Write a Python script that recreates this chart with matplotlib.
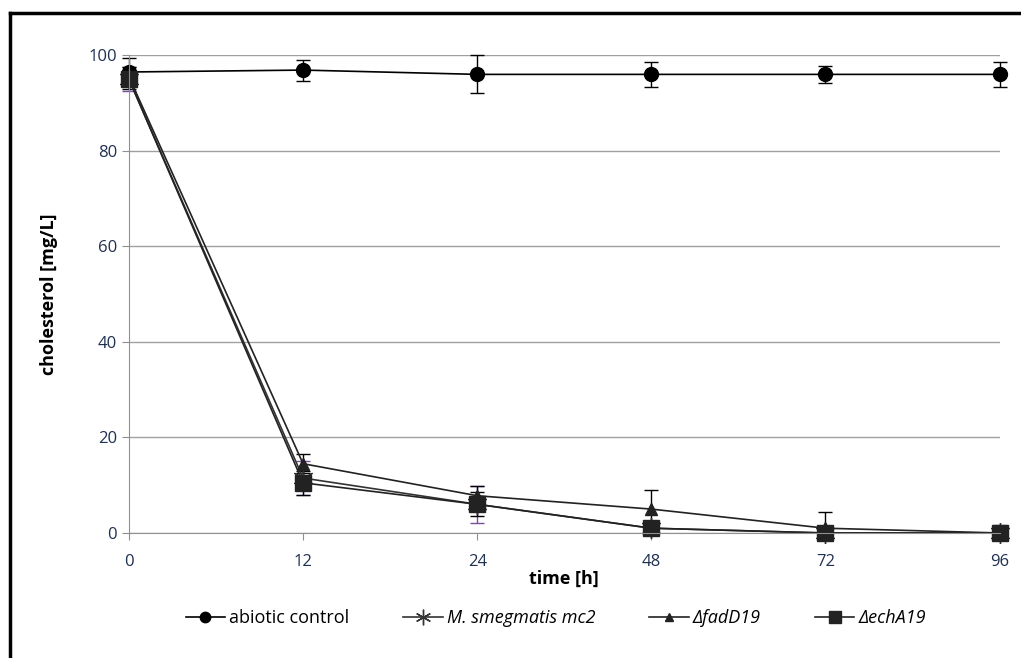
import matplotlib.pyplot as plt
from matplotlib.lines import Line2D
import numpy as np

time_labels = ['0', '12', '24', '48', '72', '96']

abiotic = [96.5, 96.9, 96.0, 96.0, 96.0, 96.0]
abiotic_err = [3.0, 2.2, 4.0, 2.6, 1.7, 2.6]

smeg = [95.0, 11.5, 6.0, 1.0, 0.0, 0.0]
smeg_err = [2.5, 3.5, 3.9, 1.0, 1.0, 1.7]

fadD19 = [95.5, 14.5, 7.8, 5.0, 1.0, 0.0]
fadD19_err = [2.0, 2.0, 2.0, 4.0, 3.4, 1.0]

echA19 = [95.0, 10.5, 6.0, 1.0, 0.0, 0.0]
echA19_err = [2.0, 2.5, 2.5, 1.0, 1.0, 1.0]

plt.rcParams['font.family'] = ['Open Sans', 'DejaVu Sans']

# excel-style category axis: points equally spaced
x = np.arange(len(time_labels))


def err_pair(vals, errs):
    # bars don't go below the axis
    lo = [min(e, v) for v, e in zip(vals, errs)]
    return [lo, errs]


fig = plt.figure(figsize=(10.21, 6.58), dpi=100)
ax = fig.add_axes([0.1263, 0.19, 0.979 - 0.1263, 0.916 - 0.19])

ax.errorbar(x, abiotic, yerr=err_pair(abiotic, abiotic_err), fmt='none', ecolor='black', elinewidth=1, capsize=5, clip_on=False)
ax.errorbar(x, smeg, yerr=err_pair(smeg, smeg_err), fmt='none', ecolor='#7a4f9a', elinewidth=1, capsize=5, clip_on=False)
ax.errorbar(x, fadD19, yerr=err_pair(fadD19, fadD19_err), fmt='none', ecolor='black', elinewidth=1, capsize=5, clip_on=False)
ax.errorbar(x, echA19, yerr=err_pair(echA19, echA19_err), fmt='none', ecolor='black', elinewidth=1, capsize=5, clip_on=False)

ax.plot(x, abiotic, '-o', color='black', lw=1.2, ms=10, label='abiotic control', clip_on=False)
ax.plot(x, smeg, '-', marker=(6, 2, 0), color='#333333', lw=1.2, ms=15, mew=1, label='M. smegmatis mc2', clip_on=False)
ax.plot(x, fadD19, '-^', color='#222222', lw=1.2, ms=8, label='ΔfadD19', clip_on=False)
ax.plot(x, echA19, '-s', color='#222222', lw=1.2, ms=11, label='ΔechA19', clip_on=False)

ax.set_xlim(0, len(time_labels) - 1)
ax.set_ylim(0, 100)
ax.set_xticks(x)
ax.set_xticklabels(time_labels)
ax.set_yticks(np.arange(0, 101, 20))
ax.yaxis.grid(True, color='#a0a0a0', lw=1)
ax.set_axisbelow(True)
for s in ['top', 'right']:
    ax.spines[s].set_visible(False)
for s in ['left', 'bottom']:
    ax.spines[s].set_color('#909090')
ax.tick_params(axis='both', colors='#909090', labelcolor='#1f3050', labelsize=12, length=5)
ax.tick_params(axis='x', pad=10)

ax.set_xlabel('time [h]', fontsize=13, fontweight='bold', labelpad=0)
ax.set_ylabel('cholesterol [mg/L]', fontsize=13, fontweight='bold', labelpad=22)

leg = ax.legend(loc='upper center', bbox_to_anchor=(0.49, -0.125), ncol=4, frameon=False,
                fontsize=13, handlelength=2.2, columnspacing=3.0, handletextpad=0.2, markerscale=0.75)
for t in leg.get_texts()[1:]:
    t.set_style('italic')

# partial outer frame (left and top)
fig.add_artist(Line2D([10 / 1021, 10 / 1021], [0, 1 - 13 / 658], color='black', lw=2.5, transform=fig.transFigure))
fig.add_artist(Line2D([10 / 1021, 1], [1 - 13 / 658, 1 - 13 / 658], color='black', lw=2.5, transform=fig.transFigure))

fig.savefig('out.png', dpi=100)
